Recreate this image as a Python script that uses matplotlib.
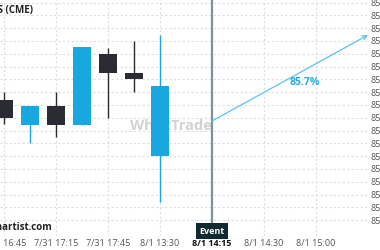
#-----------------------------------------------------------------------
#---- plot.py : candlestick event chart (Autochartist / Who2Trade style)
#-----------------------------------------------------------------------

import numpy as np
import matplotlib
matplotlib.use("Agg")
import matplotlib.pyplot as plt


#---- Data
slot_labels = ["7/31 16:45", "7/31 17:15", "7/31 17:45", "8/1 13:30",
               "8/1 14:15", "8/1 14:30", "8/1 15:00"]
label_slots = [0, 2, 4, 6, 8, 10, 12]

candle_slots = [0, 1, 2, 3, 4, 5, 6]
opens  = [85.570, 85.470, 85.545, 85.470, 85.750, 85.675, 85.350]
closes = [85.500, 85.545, 85.470, 85.775, 85.675, 85.650, 85.625]
highs  = [85.600, 85.545, 85.600, 85.775, 85.772, 85.800, 85.825]
lows   = [85.475, 85.400, 85.425, 85.470, 85.500, 85.600, 85.170]

price_ticks = [85.10, 85.15, 85.20, 85.25, 85.30, 85.35, 85.40, 85.45, 85.50,
               85.55, 85.60, 85.65, 85.70, 85.75, 85.80, 85.85, 85.90, 85.95]

event_slot = 8
arrow_from = (8, 85.487)
arrow_to = (14, 85.823)
prob_text = "85.7%"
prob_pos = (11.58, 85.636)

#---- Styles
up_col = "#19a7e0"
down_col = "#2b2c33"
grid_col = "#dedede"
arrow_col = "#5cc2ee"

plt.rcParams['font.family'] = ['Open Sans', 'DejaVu Sans']

W, H = 380, 250
fig = plt.figure(figsize=(W / 100, H / 100), dpi=100)
ax = fig.add_axes([0, 1 - 236 / H, 368 / W, 236 / H])

ax.set_xlim(-4 / 26, 364 / 26)
ax.set_ylim(85.95 - 233.5 / 256, 85.95 + 2.5 / 256)

#---- Grid
for p in price_ticks:
    ax.axhline(p, color=grid_col, lw=0.8, ls=(0, (2, 2)), zorder=0)
for s in label_slots:
    if s != event_slot:
        ax.axvline(s, color=grid_col, lw=0.8, ls=(0, (2, 2)), zorder=0)

#---- Watermark
ax.text(6.42, 85.468, "Who2Trade", color="#d2d2d2", fontsize=10.5,
        fontweight="bold", ha="center", va="center", zorder=1)

#---- Candles
o = np.array(opens)
c = np.array(closes)
cols = [up_col if cc >= oo else down_col for oo, cc in zip(o, c)]
ax.vlines(candle_slots, lows, highs, colors=cols, lw=1.0, zorder=2)
ax.bar(candle_slots, np.abs(c - o), bottom=np.minimum(o, c), width=0.69,
       color=cols, zorder=3)

#---- Event line
ax.axvline(event_slot, color="#7f9196", lw=1.6, zorder=4)

#---- Arrow
ax.annotate("", xy=arrow_to, xytext=arrow_from, zorder=5, annotation_clip=False,
            arrowprops=dict(arrowstyle="->", color=arrow_col, lw=0.9,
                            shrinkA=0, shrinkB=0, mutation_scale=8))
ax.text(prob_pos[0], prob_pos[1], prob_text, color="#2aa9e0", fontsize=7.5,
        fontweight="bold", ha="center", va="center", zorder=5)

#---- Axes
for sp in ax.spines.values():
    sp.set_visible(False)
ax.yaxis.tick_right()
ax.set_yticks(price_ticks)
ax.set_yticklabels(["%.2f" % p for p in price_ticks], fontsize=6.5, color="#555555")
ax.set_xticks(label_slots)
ax.set_xticklabels(slot_labels, fontsize=6.5, color="#555555")
ax.tick_params(length=0, pad=2)
for t, s in zip(ax.get_xticklabels(), label_slots):
    if s == event_slot:
        t.set_fontweight("bold")
        t.set_color("#111111")

#---- Event tag
fig.text(212 / W, 1 - 231 / H, "Event", color="white", fontsize=6.5,
         fontweight="bold", ha="center", va="center",
         bbox=dict(boxstyle="square,pad=0.35", fc="#0e2a33", ec="none"))

#---- Titles
fig.text(33 / W, 1 - 11 / H, "AUTOCHARTIST FUTURES (CME)", fontsize=7,
         fontweight="bold", color="#222222", ha="right", va="center")
fig.text(53 / W, 1 - 228 / H, "www.autochartist.com", fontsize=7,
         fontweight="bold", color="#222222", ha="right", va="center")

fig.savefig("out.png", dpi=100)
